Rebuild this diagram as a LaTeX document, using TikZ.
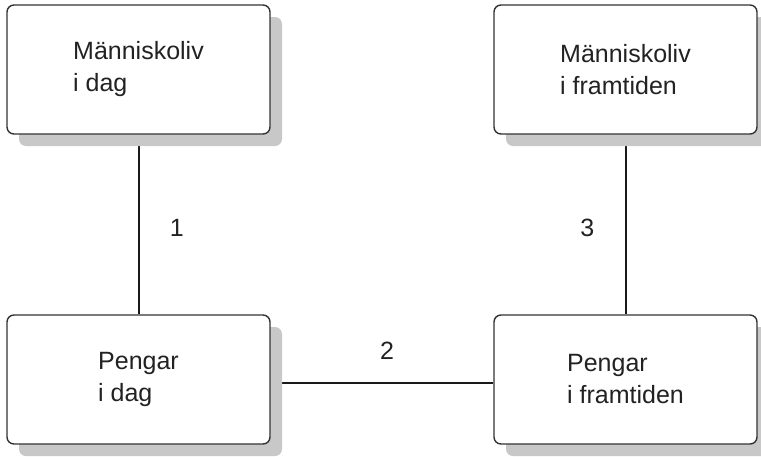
\documentclass[tikz,border=0pt]{standalone}
\usepackage{fontspec}
\setmainfont{Liberation Sans}
\usetikzlibrary{shadows,backgrounds}

\definecolor{boxline}{HTML}{333333}
\definecolor{shadowgray}{HTML}{C8C8C8}
\definecolor{textdark}{HTML}{222222}

\tikzset{
  lifebox/.style={draw=boxline, line width=1.4pt, rounded corners=7pt, fill=white,
    minimum width=263pt, minimum height=129pt, align=left, text=textdark,
    font=\fontsize{25}{32}\selectfont,
    drop shadow={shadow xshift=12pt, shadow yshift=-12pt, fill=shadowgray, opacity=1}},
  link/.style={line width=2pt, draw=black!90},
  num/.style={text=textdark, font=\fontsize{25}{30}\selectfont, yshift=-3pt}
}

\begin{document}
\begin{tikzpicture}[x=1pt,y=-1pt]
\useasboundingbox (0,0) rectangle (761,456);

\node[lifebox] (livnu) at (138.5,69.5) {Människoliv\\i dag};
\node[lifebox] (livsen) at (625.5,69.5) {Människoliv\\i framtiden};
\node[lifebox] (pengnu) at (138.5,379.5) {Pengar\\i dag};
\node[lifebox] (pengsen) at (625.5,379.5) {Pengar\\i framtiden};

% connectors sit behind the shadows
\begin{scope}[on background layer]
\draw[link] (livnu.south) -- node[num, midway, right=27pt] {1} (pengnu.north);
\draw[link] ([yshift=-3pt]pengnu.east) -- node[num, midway, above=22pt, xshift=5pt] {2} ([yshift=-3pt]pengsen.west);
\draw[link] (livsen.south) -- node[num, midway, left=27pt] {3} (pengsen.north);
\end{scope}
\end{tikzpicture}
\end{document}
